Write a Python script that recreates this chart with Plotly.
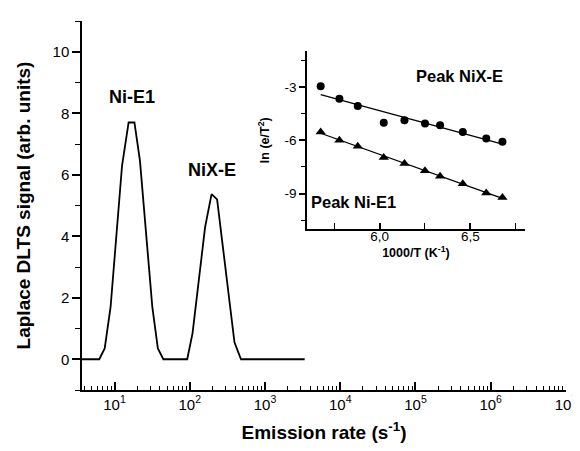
import numpy as np
import plotly.graph_objects as go

# Main Laplace DLTS spectrum
emission_rate = [3.7, 6.27, 7.41, 8.87, 12.6, 15.4, 18.4, 21.8, 31.8, 37.7, 44.6,
                 92.5, 109, 160, 195, 231, 393, 480, 3370]
signal = [0, 0, 0.35, 1.7, 6.3, 7.7, 7.7, 6.45, 1.7, 0.35, 0,
          0, 0.85, 4.3, 5.37, 5.2, 0.55, 0, 0]
x_tickvals = [1e1, 1e2, 1e3, 1e4, 1e5, 1e6, 1e7]
x_ticktext = ["10<sup>1</sup>", "10<sup>2</sup>", "10<sup>3</sup>", "10<sup>4</sup>",
              "10<sup>5</sup>", "10<sup>6</sup>", "10<sup>7</sup>"]

# Inset Arrhenius data
inv_T = [5.676, 5.779, 5.880, 6.023, 6.137, 6.250, 6.333, 6.458, 6.587, 6.676]
ln_nix = [-2.97, -3.66, -4.07, -5.02, -4.88, -5.06, -5.16, -5.53, -5.90, -6.09]
ln_ni = [-5.53, -6.00, -6.34, -6.97, -7.31, -7.72, -8.02, -8.45, -8.96, -9.22]

inset_yticks = [-9, -6, -3]
inset_yticktext = ["-9", "-6", "-3"]

FONT = "Arial, Liberation Sans, sans-serif"

minor_log = [k * 10.0 ** n for n in range(0, 7) for k in range(2, 10)]
XRANGE = [0.568, 7.0008]
IXRANGE = [5.6, 6.8]

fig = go.Figure()
fig.add_trace(go.Scatter(x=emission_rate, y=signal, mode="lines",
                         line=dict(color="black", width=1.8), xaxis="x", yaxis="y",
                         showlegend=False))

xfit = np.array([min(inv_T), max(inv_T)])
for ydata, sym, size in [(ln_nix, "circle", 8), (ln_ni, "triangle-up", 9)]:
    p = np.polyfit(inv_T, ydata, 1)
    fig.add_trace(go.Scatter(x=xfit, y=np.polyval(p, xfit), mode="lines",
                             line=dict(color="black", width=1.3),
                             xaxis="x3", yaxis="y4", showlegend=False))
    fig.add_trace(go.Scatter(x=inv_T, y=ydata, mode="markers",
                             marker=dict(symbol=sym, size=size, color="black"),
                             xaxis="x3", yaxis="y4", showlegend=False))

axcommon = dict(showline=True, linecolor="black", linewidth=1.5, showgrid=False,
                zeroline=False, tickcolor="black", tickwidth=1.5)

main_x_ticks = dict(type="log", range=XRANGE, tickmode="array",
                    tickvals=x_tickvals, ticktext=x_ticktext,
                    ticks="inside", ticklen=8,
                    minor=dict(ticks="inside", ticklen=4, tickmode="array",
                               tickvals=minor_log, tickcolor="black", tickwidth=1.2))
inset_x_ticks = dict(range=IXRANGE, dtick=0.5, tick0=6.0, ticks="inside", ticklen=6,
                     minor=dict(ticks="inside", ticklen=6, dtick=0.25, tick0=6.0,
                                tickcolor="black", tickwidth=1.2))

fig.update_layout(
    width=580, height=451,
    margin=dict(l=74, r=11, t=13, b=69),
    paper_bgcolor="white", plot_bgcolor="white",
    separators=",.",
    font=dict(family=FONT, color="black"),
    xaxis=dict(**axcommon, **main_x_ticks, ticklabeloverflow="allow",
               tickfont=dict(size=15, family=FONT),
               title=dict(text="<b>Emission rate (s<sup>-1</sup>)</b>",
                          font=dict(size=19, family=FONT), standoff=14)),
    xaxis2=dict(**axcommon, **main_x_ticks, overlaying="x", side="top", anchor="y",
                showticklabels=False),
    yaxis=dict(**axcommon, range=[-1, 11], dtick=2, tick0=0,
               ticks="outside", ticklen=8,
               minor=dict(ticks="outside", ticklen=5, dtick=1,
                          tickcolor="black", tickwidth=1.2),
               tickfont=dict(size=15, family=FONT),
               title=dict(text="<b>Laplace DLTS signal (arb. units)</b>",
                          font=dict(size=19, family=FONT), standoff=17)),
    yaxis2=dict(**axcommon, overlaying="y", side="right", anchor="x",
                range=[-1, 11], dtick=1, tick0=0, ticks="inside", ticklen=6,
                showticklabels=False),
    xaxis3=dict(**axcommon, **inset_x_ticks, domain=[0.4646, 0.9152], anchor="y4",
                tickformat=".1f", ticklabelstandoff=-6,
                tickfont=dict(size=13.5, family=FONT),
                title=dict(text="<b>1000/T (K<sup>-1</sup>)</b>",
                           font=dict(size=12.5, family=FONT), standoff=2)),
    xaxis4=dict(**axcommon, **inset_x_ticks, overlaying="x3", side="top",
                anchor="y4", showticklabels=False),
    yaxis4=dict(**axcommon, domain=[0.4359, 0.9178], anchor="x3",
                range=[-11, -1], tickvals=inset_yticks, ticktext=inset_yticktext,
                ticks="outside", ticklen=6,
                minor=dict(ticks="outside", ticklen=4, dtick=1.5, tick0=-3,
                           tickcolor="black", tickwidth=1.2),
                tickfont=dict(size=13.5, family=FONT),
                title=dict(text="<b>ln (e/T<sup>2</sup>)</b>",
                           font=dict(size=12.5, family=FONT), standoff=12)),
    yaxis5=dict(**axcommon, overlaying="y4", side="right", anchor="x3",
                range=[-11, -1], dtick=1.5, tick0=-3, ticks="inside", ticklen=6,
                showticklabels=False),
    annotations=[
        dict(text="<b>Ni-E1</b>", x=1.231, y=8.54, xref="x", yref="y",
             showarrow=False, font=dict(size=18, family=FONT)),
        dict(text="<b>NiX-E</b>", x=2.295, y=6.17, xref="x", yref="y",
             showarrow=False, font=dict(size=18, family=FONT)),
        dict(text="<b>Peak NiX-E</b>", x=6.44, y=-2.37, xref="x3", yref="y4",
             showarrow=False, font=dict(size=16.5, family=FONT)),
        dict(text="<b>Peak Ni-E1</b>", x=5.855, y=-9.5, xref="x3", yref="y4",
             showarrow=False, font=dict(size=16.5, family=FONT)),
    ],
)

fig.write_html("out.html")
